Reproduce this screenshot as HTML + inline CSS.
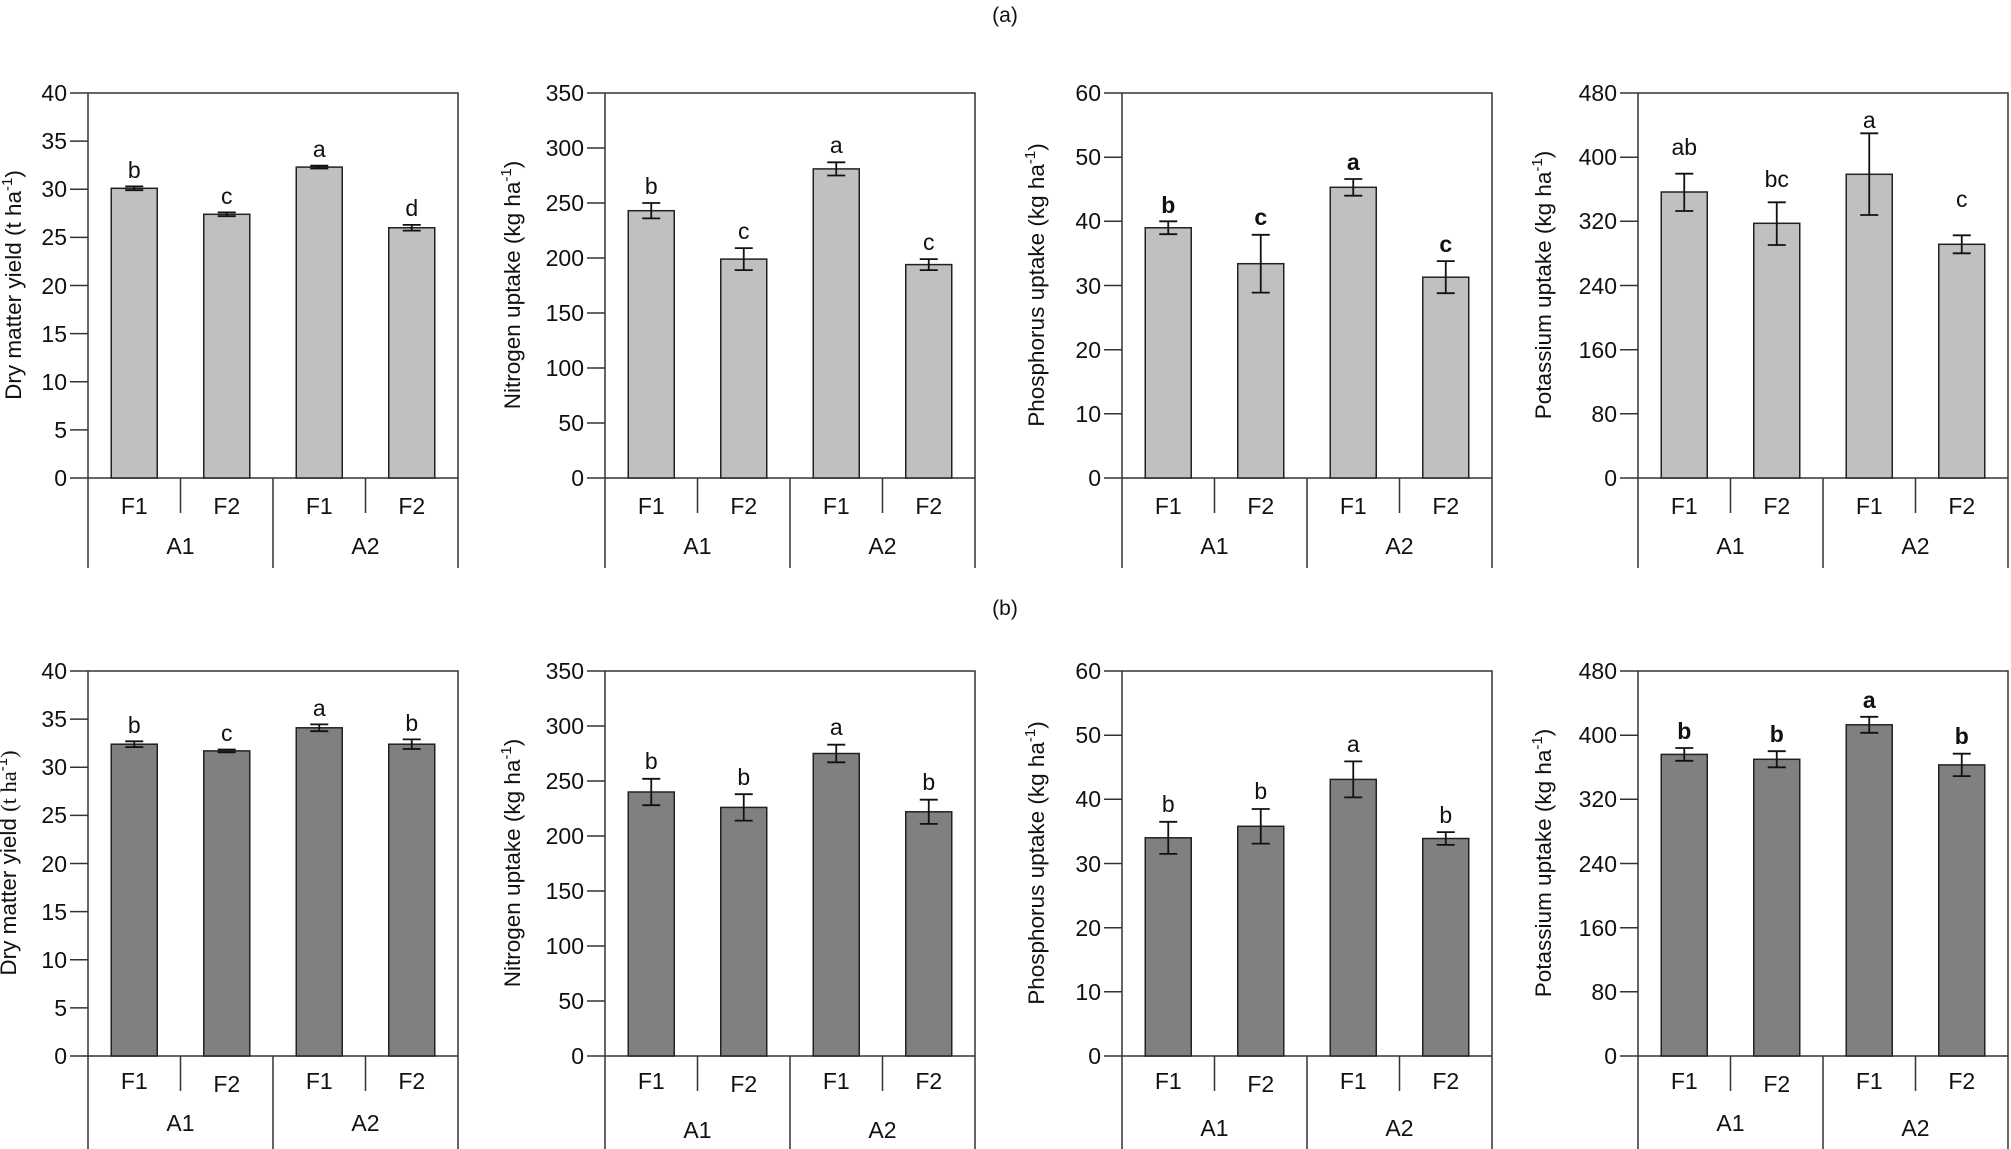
<!DOCTYPE html>
<html><head><meta charset="utf-8"><style>
html,body{margin:0;padding:0;background:#fff}
svg{display:block}
text{font-family:"Liberation Sans",Arial,sans-serif;fill:#111}
.t{font-size:23px;text-anchor:end}
.c{font-size:23px;text-anchor:middle}
.l{font-size:22.5px;text-anchor:middle}
.ax{stroke:#333;stroke-width:1.5;fill:none}
.b1{fill:#c0c0c0;stroke:#222;stroke-width:1.5}
.b2{fill:#808080;stroke:#222;stroke-width:1.5}
.e{stroke:#111;stroke-width:1.8;fill:none}
</style></head><body>
<svg width="2011" height="1149" viewBox="0 0 2011 1149" xmlns="http://www.w3.org/2000/svg">
<text x="1005" y="22" class="c" style="font-size:21px">(a)</text>
<text x="1005" y="615" class="c" style="font-size:21px">(b)</text>

<!-- ===== TOP ROW ===== -->
<g transform="translate(88,93)">
<path class="ax" d="M0,0H370V475M0,0V475M185,385V475M92.5,385V420M277.5,385V420M-18,385H370"/>
<path class="ax" d="M-18,0H0M-18,48.1H0M-18,96.25H0M-18,144.4H0M-18,192.5H0M-18,240.6H0M-18,288.75H0M-18,336.9H0"/>
<text class="t" x="-21" y="393">0</text><text class="t" x="-21" y="345">5</text><text class="t" x="-21" y="297">10</text><text class="t" x="-21" y="249">15</text><text class="t" x="-21" y="201">20</text><text class="t" x="-21" y="152">25</text><text class="t" x="-21" y="104">30</text><text class="t" x="-21" y="56">35</text><text class="t" x="-21" y="8">40</text>
<text class="l" transform="translate(-67,192) rotate(-90)">Dry matter yield (t ha<tspan dy="-9" font-size="15">-1</tspan><tspan dy="9">)</tspan></text>
<rect class="b1" x="23.25" y="95.3" width="46" height="289.7"/>
<rect class="b1" x="115.75" y="121.3" width="46" height="263.7"/>
<rect class="b1" x="208.25" y="74.1" width="46" height="310.9"/>
<rect class="b1" x="300.75" y="134.75" width="46" height="250.25"/>
<path class="e" d="M46.25,93.4V97.2M37.25,93.4h18M37.25,97.2h18 M138.75,119.4V123.2M129.75,119.4h18M129.75,123.2h18 M231.25,72.7V75.5M222.25,72.7h18M222.25,75.5h18 M323.75,131.9V137.6M314.75,131.9h18M314.75,137.6h18"/>
<text class="c" x="46.25" y="85">b</text><text class="c" x="138.75" y="111">c</text><text class="c" x="231.25" y="64">a</text><text class="c" x="323.75" y="123">d</text>
<text class="c" x="46.25" y="421">F1</text><text class="c" x="138.75" y="421">F2</text><text class="c" x="231.25" y="421">F1</text><text class="c" x="323.75" y="421">F2</text>
<text class="c" x="92.5" y="461">A1</text><text class="c" x="277.5" y="461">A2</text>
</g>
<g transform="translate(605,93)">
<path class="ax" d="M0,0H370V475M0,0V475M185,385V475M92.5,385V420M277.5,385V420M-18,385H370"/>
<path class="ax" d="M-18,0H0M-18,55H0M-18,110H0M-18,165H0M-18,220H0M-18,275H0M-18,330H0"/>
<text class="t" x="-21" y="393">0</text><text class="t" x="-21" y="338">50</text><text class="t" x="-21" y="283">100</text><text class="t" x="-21" y="228">150</text><text class="t" x="-21" y="173">200</text><text class="t" x="-21" y="118">250</text><text class="t" x="-21" y="63">300</text><text class="t" x="-21" y="8">350</text>
<text class="l" transform="translate(-85,192) rotate(-90)">Nitrogen uptake (kg ha<tspan dy="-9" font-size="15">-1</tspan><tspan dy="9">)</tspan></text>
<rect class="b1" x="23.25" y="117.7" width="46" height="267.3"/>
<rect class="b1" x="115.75" y="166.1" width="46" height="218.9"/>
<rect class="b1" x="208.25" y="75.9" width="46" height="309.1"/>
<rect class="b1" x="300.75" y="171.6" width="46" height="213.4"/>
<path class="e" d="M46.25,110V125.4M37.25,110h18M37.25,125.4h18 M138.75,155.1V177.1M129.75,155.1h18M129.75,177.1h18 M231.25,69.3V82.5M222.25,69.3h18M222.25,82.5h18 M323.75,166.1V177.1M314.75,166.1h18M314.75,177.1h18"/>
<text class="c" x="46.25" y="101">b</text><text class="c" x="138.75" y="146">c</text><text class="c" x="231.25" y="60">a</text><text class="c" x="323.75" y="157">c</text>
<text class="c" x="46.25" y="421">F1</text><text class="c" x="138.75" y="421">F2</text><text class="c" x="231.25" y="421">F1</text><text class="c" x="323.75" y="421">F2</text>
<text class="c" x="92.5" y="461">A1</text><text class="c" x="277.5" y="461">A2</text>
</g>
<g transform="translate(1122,93)">
<path class="ax" d="M0,0H370V475M0,0V475M185,385V475M92.5,385V420M277.5,385V420M-18,385H370"/>
<path class="ax" d="M-18,0H0M-18,64.2H0M-18,128.3H0M-18,192.5H0M-18,256.7H0M-18,320.8H0"/>
<text class="t" x="-21" y="393">0</text><text class="t" x="-21" y="329">10</text><text class="t" x="-21" y="265">20</text><text class="t" x="-21" y="201">30</text><text class="t" x="-21" y="136">40</text><text class="t" x="-21" y="72">50</text><text class="t" x="-21" y="8">60</text>
<text class="l" transform="translate(-78,192) rotate(-90)">Phosphorus uptake (kg ha<tspan dy="-9" font-size="15">-1</tspan><tspan dy="9">)</tspan></text>
<rect class="b1" x="23.25" y="134.75" width="46" height="250.25"/>
<rect class="b1" x="115.75" y="170.7" width="46" height="214.3"/>
<rect class="b1" x="208.25" y="94.3" width="46" height="290.7"/>
<rect class="b1" x="300.75" y="184.2" width="46" height="200.8"/>
<path class="e" d="M46.25,128.3V141.2M37.25,128.3h18M37.25,141.2h18 M138.75,141.8V199.6M129.75,141.8h18M129.75,199.6h18 M231.25,86V102.7M222.25,86h18M222.25,102.7h18 M323.75,168.1V200.2M314.75,168.1h18M314.75,200.2h18"/>
<g style="font-weight:bold"><text class="c" x="46.25" y="120">b</text><text class="c" x="138.75" y="132">c</text><text class="c" x="231.25" y="77">a</text><text class="c" x="323.75" y="159">c</text></g>
<text class="c" x="46.25" y="421">F1</text><text class="c" x="138.75" y="421">F2</text><text class="c" x="231.25" y="421">F1</text><text class="c" x="323.75" y="421">F2</text>
<text class="c" x="92.5" y="461">A1</text><text class="c" x="277.5" y="461">A2</text>
</g>
<g transform="translate(1638,93)">
<path class="ax" d="M0,0H370V475M0,0V475M185,385V475M92.5,385V420M277.5,385V420M-18,385H370"/>
<path class="ax" d="M-18,0H0M-18,64.2H0M-18,128.3H0M-18,192.5H0M-18,256.7H0M-18,320.8H0"/>
<text class="t" x="-21" y="393">0</text><text class="t" x="-21" y="329">80</text><text class="t" x="-21" y="265">160</text><text class="t" x="-21" y="201">240</text><text class="t" x="-21" y="136">320</text><text class="t" x="-21" y="72">400</text><text class="t" x="-21" y="8">480</text>
<text class="l" transform="translate(-87,192) rotate(-90)">Potassium uptake (kg ha<tspan dy="-9" font-size="15">-1</tspan><tspan dy="9">)</tspan></text>
<rect class="b1" x="23.25" y="99" width="46" height="286"/>
<rect class="b1" x="115.75" y="130.3" width="46" height="254.7"/>
<rect class="b1" x="208.25" y="81.3" width="46" height="303.7"/>
<rect class="b1" x="300.75" y="151.3" width="46" height="233.7"/>
<path class="e" d="M46.25,80.7V118M37.25,80.7h18M37.25,118h18 M138.75,109.3V152M129.75,109.3h18M129.75,152h18 M231.25,40.3V122M222.25,40.3h18M222.25,122h18 M323.75,142.3V160.3M314.75,142.3h18M314.75,160.3h18"/>
<text class="c" x="46.25" y="62">ab</text><text class="c" x="138.75" y="94">bc</text><text class="c" x="231.25" y="35">a</text><text class="c" x="323.75" y="114">c</text>
<text class="c" x="46.25" y="421">F1</text><text class="c" x="138.75" y="421">F2</text><text class="c" x="231.25" y="421">F1</text><text class="c" x="323.75" y="421">F2</text>
<text class="c" x="92.5" y="461">A1</text><text class="c" x="277.5" y="461">A2</text>
</g>

<!-- ===== BOTTOM ROW ===== -->
<g transform="translate(88,671)">
<path class="ax" d="M0,0H370V480M0,0V480M185,385V480M92.5,385V420M277.5,385V420M-18,385H370"/>
<path class="ax" d="M-18,0H0M-18,48.1H0M-18,96.25H0M-18,144.4H0M-18,192.5H0M-18,240.6H0M-18,288.75H0M-18,336.9H0"/>
<text class="t" x="-21" y="393">0</text><text class="t" x="-21" y="345">5</text><text class="t" x="-21" y="297">10</text><text class="t" x="-21" y="249">15</text><text class="t" x="-21" y="201">20</text><text class="t" x="-21" y="152">25</text><text class="t" x="-21" y="104">30</text><text class="t" x="-21" y="56">35</text><text class="t" x="-21" y="8">40</text>
<text class="l" transform="translate(-72,192) rotate(-90)">Dry matter yield <tspan font-family="Liberation Serif">(t ha</tspan><tspan dy="-9" font-size="15">-1</tspan><tspan dy="9" font-family="Liberation Serif">)</tspan></text>
<rect class="b2" x="23.25" y="73.2" width="46" height="311.8"/>
<rect class="b2" x="115.75" y="79.9" width="46" height="305.1"/>
<rect class="b2" x="208.25" y="56.8" width="46" height="328.2"/>
<rect class="b2" x="300.75" y="73.2" width="46" height="311.8"/>
<path class="e" d="M46.25,70.3V76.1M37.25,70.3h18M37.25,76.1h18 M138.75,78.5V81.4M129.75,78.5h18M129.75,81.4h18 M231.25,53.4V60.2M222.25,53.4h18M222.25,60.2h18 M323.75,68.4V78M314.75,68.4h18M314.75,78h18"/>
<text class="c" x="46.25" y="62">b</text><text class="c" x="138.75" y="70">c</text><text class="c" x="231.25" y="45">a</text><text class="c" x="323.75" y="60">b</text>
<text class="c" x="46.25" y="418">F1</text><text class="c" x="138.75" y="421">F2</text><text class="c" x="231.25" y="418">F1</text><text class="c" x="323.75" y="418">F2</text>
<text class="c" x="92.5" y="460">A1</text><text class="c" x="277.5" y="460">A2</text>
</g>
<g transform="translate(605,671)">
<path class="ax" d="M0,0H370V480M0,0V480M185,385V480M92.5,385V420M277.5,385V420M-18,385H370"/>
<path class="ax" d="M-18,0H0M-18,55H0M-18,110H0M-18,165H0M-18,220H0M-18,275H0M-18,330H0"/>
<text class="t" x="-21" y="393">0</text><text class="t" x="-21" y="338">50</text><text class="t" x="-21" y="283">100</text><text class="t" x="-21" y="228">150</text><text class="t" x="-21" y="173">200</text><text class="t" x="-21" y="118">250</text><text class="t" x="-21" y="63">300</text><text class="t" x="-21" y="8">350</text>
<text class="l" transform="translate(-85,192) rotate(-90)">Nitrogen uptake (kg ha<tspan dy="-9" font-size="15">-1</tspan><tspan dy="9">)</tspan></text>
<rect class="b2" x="23.25" y="121" width="46" height="264"/>
<rect class="b2" x="115.75" y="136.4" width="46" height="248.6"/>
<rect class="b2" x="208.25" y="82.5" width="46" height="302.5"/>
<rect class="b2" x="300.75" y="140.8" width="46" height="244.2"/>
<path class="e" d="M46.25,107.8V134.2M37.25,107.8h18M37.25,134.2h18 M138.75,123.2V149.6M129.75,123.2h18M129.75,149.6h18 M231.25,73.7V91.3M222.25,73.7h18M222.25,91.3h18 M323.75,128.7V152.9M314.75,128.7h18M314.75,152.9h18"/>
<text class="c" x="46.25" y="98">b</text><text class="c" x="138.75" y="114">b</text><text class="c" x="231.25" y="64">a</text><text class="c" x="323.75" y="119">b</text>
<text class="c" x="46.25" y="418">F1</text><text class="c" x="138.75" y="421">F2</text><text class="c" x="231.25" y="418">F1</text><text class="c" x="323.75" y="418">F2</text>
<text class="c" x="92.5" y="467">A1</text><text class="c" x="277.5" y="467">A2</text>
</g>
<g transform="translate(1122,671)">
<path class="ax" d="M0,0H370V480M0,0V480M185,385V480M92.5,385V420M277.5,385V420M-18,385H370"/>
<path class="ax" d="M-18,0H0M-18,64.2H0M-18,128.3H0M-18,192.5H0M-18,256.7H0M-18,320.8H0"/>
<text class="t" x="-21" y="393">0</text><text class="t" x="-21" y="329">10</text><text class="t" x="-21" y="265">20</text><text class="t" x="-21" y="201">30</text><text class="t" x="-21" y="136">40</text><text class="t" x="-21" y="72">50</text><text class="t" x="-21" y="8">60</text>
<text class="l" transform="translate(-78,192) rotate(-90)">Phosphorus uptake (kg ha<tspan dy="-9" font-size="15">-1</tspan><tspan dy="9">)</tspan></text>
<rect class="b2" x="23.25" y="166.8" width="46" height="218.2"/>
<rect class="b2" x="115.75" y="155.3" width="46" height="229.7"/>
<rect class="b2" x="208.25" y="108.4" width="46" height="276.6"/>
<rect class="b2" x="300.75" y="167.5" width="46" height="217.5"/>
<path class="e" d="M46.25,150.8V182.9M37.25,150.8h18M37.25,182.9h18 M138.75,138V172.6M129.75,138h18M129.75,172.6h18 M231.25,90.4V126.4M222.25,90.4h18M222.25,126.4h18 M323.75,161.1V173.9M314.75,161.1h18M314.75,173.9h18"/>
<text class="c" x="46.25" y="141">b</text><text class="c" x="138.75" y="128">b</text><text class="c" x="231.25" y="81">a</text><text class="c" x="323.75" y="152">b</text>
<text class="c" x="46.25" y="418">F1</text><text class="c" x="138.75" y="421">F2</text><text class="c" x="231.25" y="418">F1</text><text class="c" x="323.75" y="418">F2</text>
<text class="c" x="92.5" y="465">A1</text><text class="c" x="277.5" y="465">A2</text>
</g>
<g transform="translate(1638,671)">
<path class="ax" d="M0,0H370V480M0,0V480M185,385V480M92.5,385V420M277.5,385V420M-18,385H370"/>
<path class="ax" d="M-18,0H0M-18,64.2H0M-18,128.3H0M-18,192.5H0M-18,256.7H0M-18,320.8H0"/>
<text class="t" x="-21" y="393">0</text><text class="t" x="-21" y="329">80</text><text class="t" x="-21" y="265">160</text><text class="t" x="-21" y="201">240</text><text class="t" x="-21" y="136">320</text><text class="t" x="-21" y="72">400</text><text class="t" x="-21" y="8">480</text>
<text class="l" transform="translate(-87,192) rotate(-90)">Potassium uptake (kg ha<tspan dy="-9" font-size="15">-1</tspan><tspan dy="9">)</tspan></text>
<rect class="b2" x="23.25" y="83.4" width="46" height="301.6"/>
<rect class="b2" x="115.75" y="88.3" width="46" height="296.7"/>
<rect class="b2" x="208.25" y="53.8" width="46" height="331.2"/>
<rect class="b2" x="300.75" y="93.9" width="46" height="291.1"/>
<path class="e" d="M46.25,77V89.8M37.25,77h18M37.25,89.8h18 M138.75,80.2V96.3M129.75,80.2h18M129.75,96.3h18 M231.25,45.8V61.8M222.25,45.8h18M222.25,61.8h18 M323.75,82.7V105.1M314.75,82.7h18M314.75,105.1h18"/>
<g style="font-weight:bold"><text class="c" x="46.25" y="68">b</text><text class="c" x="138.75" y="71">b</text><text class="c" x="231.25" y="37">a</text><text class="c" x="323.75" y="73">b</text></g>
<text class="c" x="46.25" y="418">F1</text><text class="c" x="138.75" y="421">F2</text><text class="c" x="231.25" y="418">F1</text><text class="c" x="323.75" y="418">F2</text>
<text class="c" x="92.5" y="460">A1</text><text class="c" x="277.5" y="465">A2</text>
</g>
</svg>
</body></html>
